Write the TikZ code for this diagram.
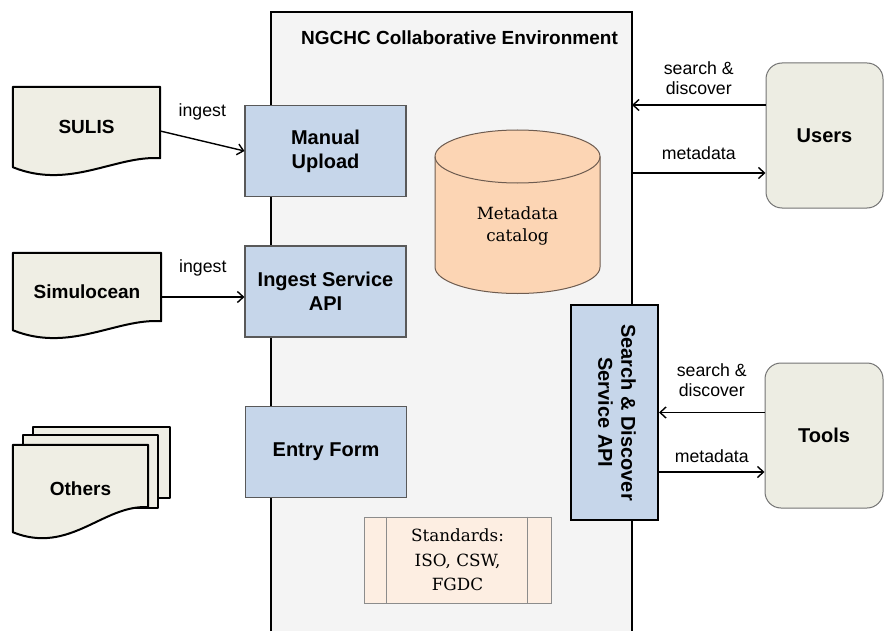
\documentclass[tikz,border=0pt]{standalone}
\usepackage{fontspec}
\setsansfont{Liberation Sans}
\newfontfamily\catserif{DejaVu Serif}
\usetikzlibrary{calc,arrows.meta}

\definecolor{envgray}{RGB}{244,244,244}
\definecolor{apiblue}{RGB}{198,214,234}
\definecolor{doccream}{RGB}{239,238,228}
\definecolor{usercream}{RGB}{237,237,227}
\definecolor{catpeach}{RGB}{252,213,180}
\definecolor{catedge}{RGB}{110,92,80}
\definecolor{stdpeach}{RGB}{253,238,226}

\pgfdeclarelayer{back}
\pgfsetlayers{back,main}

\def\docshape#1#2{%
	\begin{pgfonlayer}{back}
		\draw[docline] (#1.north west) -- (#1.north east) -- ($(#1.south east)+(0,-#2)$)
			.. controls +(-45,-3) and +(57,23) .. (#1.south west) -- cycle;
	\end{pgfonlayer}}

\tikzset{
	boxfont/.style={font=\sffamily\bfseries\fontsize{20}{24}\selectfont},
	apibox/.style={boxfont, draw=black!65, line width=1.1pt, fill=apiblue, minimum width=161pt, minimum height=91pt, align=center},
	sdbox/.style={font=\sffamily\bfseries\fontsize{20}{23}\selectfont, draw=black, line width=2pt, fill=apiblue, minimum width=87pt, minimum height=215pt},
	docnode/.style={font=\sffamily\bfseries\fontsize{19}{23}\selectfont, inner sep=0pt},
	docline/.style={draw=black, line width=2pt, fill=doccream, line join=round},
	actor/.style={boxfont, draw=black!55, line width=1pt, fill=usercream, rounded corners=16pt, minimum width=117pt, minimum height=145pt},
	catline/.style={draw=catedge, line width=1pt, fill=catpeach},
	serif/.style={font=\catserif\fontsize{16.8}{22}\selectfont, align=center},
	stdbox/.style={font=\catserif\fontsize{16.8}{24.5}\selectfont, align=center, draw=black!45, line width=1pt, fill=stdpeach, minimum width=187pt, minimum height=86pt},
	stdline/.style={draw=black!45, line width=1pt},
	lbl/.style={font=\sffamily\fontsize{17.7}{20}\selectfont, align=center, inner sep=0pt},
	flow/.style={line width=1.4pt, -{Straight Barb[length=6pt,width=11pt]}},
	envtitle/.style={font=\sffamily\bfseries\fontsize{19}{23}\selectfont}
}

\begin{document}
\begin{tikzpicture}[x=1pt,y=-1pt]
	%%%%% START %%%%%
	\useasboundingbox (0,0) rectangle (885,631);
	
	% environment
	\fill[envgray] (271,12) rectangle (632,631);
	\draw[line width=2pt] (271,631) -- (271,12) coordinate (envnw) -- (632,12) coordinate (envne) -- (632,631);
	\node[envtitle] (title) at (459.5,38) {NGCHC Collaborative Environment};
	
	\node[apibox] (manual) at (325.5,151) {Manual\\Upload};
	\node[apibox] (ingest) at (325.5,291.5) {Ingest Service\\API};
	\node[apibox] (entry) at (326,452) {Entry Form};
	
	\draw[catline] (435,156.5) -- (435,267) arc (180:0:82.5 and 26.5) -- (600,156.5) arc (0:-180:82.5 and 26.5) -- cycle;
	\draw[catline, fill=none] (435,156.5) arc (180:0:82.5 and 26.5);
	\node[serif] (catalog) at (517.5,226) {Metadata\\catalog};
	
	\node[stdbox] (standards) at (457.5,560) {Standards:\\ISO, CSW,\\FGDC};
	\draw[stdline] ($(standards.north west)+(23,0)$) -- ($(standards.south west)+(23,0)$);
	\draw[stdline] ($(standards.north east)+(-24,0)$) -- ($(standards.south east)+(-24,0)$);
	
	\node[sdbox] (sdapi) at (614.5,412.5) {\rotatebox{-90}{\begin{tabular}{@{}c@{}}Search \& Discover\\Service API\end{tabular}}};
	
	% sources
	\node[docnode, minimum width=147pt, minimum height=80pt] (sulis) at (86.5,127) {SULIS};
	\docshape{sulis}{9}
	\node[docnode, minimum width=148pt, minimum height=77pt] (simulocean) at (87,291.5) {Simulocean};
	\docshape{simulocean}{9}
	\begin{pgfonlayer}{back}
		\draw[docline] (33,427) rectangle (170,498);
		\draw[docline] (23,435) rectangle (158,508);
	\end{pgfonlayer}
	\node[docnode, minimum width=135pt, minimum height=87pt] (others) at (80.5,488.5) {Others};
	\docshape{others}{25}
	
	\draw[flow] ($(sulis.east)+(0,4)$) -- (manual.west) node[lbl, midway, above=20pt] {ingest};
	\draw[flow] ($(simulocean.east)+(0,5.5)$) coordinate (s1) -- (s1 -| ingest.west) node[lbl, midway, above=20pt] {ingest};
	
	% users and tools
	\node[actor] (users) at (824.5,135.5) {Users};
	\node[actor, minimum width=118pt] (tools) at (824,435.5) {Tools};
	
	\draw[flow] ($(users.west)+(0,-30.5)$) coordinate (u1) -- (u1 -| envne) node[lbl, midway, above=10pt] {search \&\\discover};
	\path ($(users.west)+(0,37.5)$) coordinate (u2);
	\draw[flow] (u2 -| envne) -- (u2) node[lbl, midway, above=13pt] {metadata};
	
	\draw[flow] (tools.west |- sdapi.east) -- (sdapi.east) node[lbl, midway, above=15pt] {search \&\\discover};
	\draw[flow] ($(sdapi.east)+(0,59.5)$) coordinate (t2) -- (t2 -| tools.west) node[lbl, midway, above=9pt] {metadata};
	
	%%%%% END %%%%%
\end{tikzpicture}
\end{document}
